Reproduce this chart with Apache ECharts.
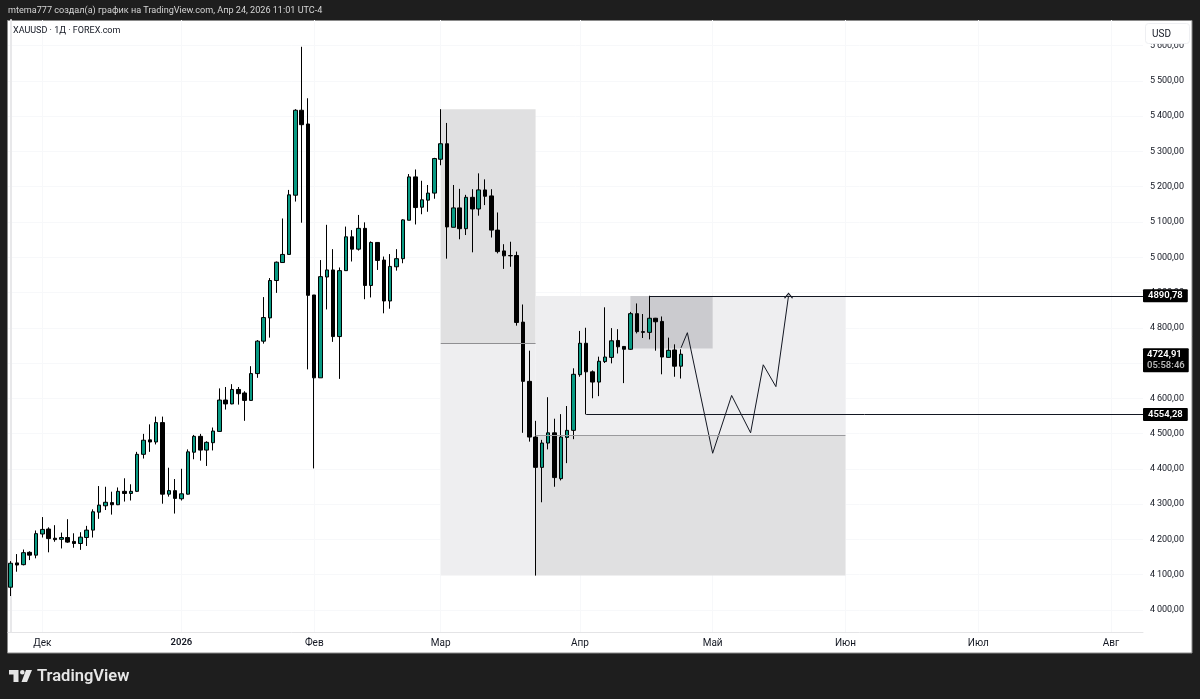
<!DOCTYPE html>
<html>
<head>
<meta charset="utf-8">
<title>XAUUSD</title>
<script src="https://cdn.jsdelivr.net/npm/echarts@6/dist/echarts.min.js"></script>
<style>
  html, body { margin: 0; padding: 0; background: #1e1e1e; }
  #chart { width: 1200px; height: 699px; }
</style>
</head>
<body>
<div id="chart"></div>
<script>
// daily candles
const open = [
  4064,4133,4128,4163,4155,4215,4229,4203,4200,4205,
  4194,4188,4205,4226,4277,4295,4304,4298,4336,4330,
  4336,4441,4482,4476,4531,4328,4338,4315,4328,4447,
  4492,4453,4474,4506,4595,4584,4625,4615,4594,4670,
  4762,4828,4934,4985,5008,5176,5417,5378,4893,4658,
  4944,4964,4775,4962,5058,5023,5082,4920,5042,4992,
  4876,4973,4996,5105,5228,5142,5162,5182,5278,5322,
  5085,5140,5081,5170,5137,5191,5174,5077,5018,5005,
  5005,4816,4648,4490,4404,4473,4502,4372,4489,4509,
  4667,4756,4675,4646,4704,4716,4764,4747,4739,4840,
  4789,4787,4827,4818,4716,4737,4691
];
const close = [
  4132,4127,4162,4155,4216,4228,4202,4199,4205,4192,
  4188,4206,4226,4278,4297,4305,4298,4336,4330,4336,
  4441,4481,4476,4531,4328,4338,4316,4329,4448,4492,
  4453,4475,4507,4595,4584,4625,4613,4594,4670,4762,
  4829,4934,4986,5008,5177,5417,5376,4892,4658,4945,
  4964,4775,4962,5058,5023,5082,4920,5042,4991,4876,
  4974,4996,5106,5228,5141,5163,5182,5280,5322,5086,
  5140,5081,5170,5137,5191,5173,5077,5016,5004,5004,
  4815,4648,4490,4404,4473,4502,4375,4490,4509,4668,
  4756,4675,4646,4705,4717,4763,4746,4739,4840,4789,
  4787,4827,4817,4717,4736,4691,4724.91
];
const low = [
  4039,4108,4126,4141,4146,4205,4163,4193,4174,4190,
  4176,4170,4181,4205,4258,4283,4270,4297,4307,4310,
  4334,4429,4448,4469,4301,4321,4273,4310,4327,4427,
  4423,4408,4452,4505,4568,4583,4582,4536,4593,4658,
  4755,4772,4899,4985,5008,5158,5098,4682,4401,4658,
  4852,4760,4655,4962,4988,5019,4881,4886,4964,4841,
  4854,4962,4983,5105,5093,5122,5129,5166,5261,4996,
  5085,5051,5063,5014,5118,5148,5056,5011,4967,4973,
  4806,4502,4477,4097,4305,4455,4349,4367,4416,4484,
  4661,4554.28,4600,4606,4700,4699,4727,4643,4737,4784,
  4771,4767,4735,4668,4715,4661,4656
];
const high = [
  4138,4158,4171,4166,4225,4263,4234,4240,4219,4257,
  4217,4220,4238,4285,4351,4349,4335,4347,4373,4356,
  4448,4499,4526,4548,4548,4403,4371,4400,4455,4496,
  4499,4478,4517,4628,4632,4640,4632,4620,4691,4765,
  4887,4941,4988,5110,5191,5420,5597,5451,4893,4992,
  5092,5023,4971,5087,5077,5120,5099,5045,5043,5002,
  5009,5023,5108,5236,5249,5217,5205,5282,5420,5381,
  5205,5194,5177,5193,5238,5221,5193,5127,5037,5044,
  5016,4866,4735,4536,4482,4603,4542,4555,4578,4685,
  4791,4800,4679,4718,4858,4799,4796,4748,4845,4869,
  4839,4890.78,4828,4832,4772,4753,4739
];

// time axis: bar number of the first trading day of each month
const monthBars = [5, 27, 48, 68, 90, 111, 132, 153, 174];
const monthNames = ['Дек', '2026', 'Фев', 'Мар', 'Апр', 'Май', 'Июн', 'Июл', 'Авг'];
const priceTicks = [4000, 4100, 4200, 4300, 4400, 4500, 4600, 4700, 4800, 4900, 5000, 5100, 5200, 5300, 5400, 5500, 5600];

// drawn zones: bars and prices
const zoneFrom = [68, 68, 83, 83, 98];
const zoneTo = [83, 83, 132, 132, 111];
const zoneTop = [5420, 4756, 4890, 4494, 4890];
const zoneBottom = [4756, 4097, 4494, 4097, 4741];

// hand drawn path
const pathBars = [106, 107, 111, 114, 117, 119, 121, 123];
const pathPrices = [4743, 4786, 4444, 4608, 4502, 4695, 4633, 4890.78];

const levelBars = [101, 91];
const levelPrices = [4890.78, 4554.28];
const lastPrice = 4724.91;
const countdown = '05:58:46';

const FONT = 'Roboto, "Noto Sans", sans-serif';
const INK = '#131722';
const xMin = -0.427, xMax = 179.05;
const zoneColors = ['#e0e0e1', '#eeeef0', '#eeeef0', '#e0e0e1', '#cbcbcf'];

function priceText(v) {
  return v.toFixed(2).replace('.', ',');
}

const candles = open.map((o, i) => [i, o, close[i], low[i], high[i]]);

const zones = zoneFrom.map((from, i) => [
  { coord: [from, zoneTop[i]], itemStyle: { color: zoneColors[i] } },
  { coord: [zoneTo[i], zoneBottom[i]] }
]);

const pathData = pathBars.map((bar, i) => ({ value: [bar, pathPrices[i]] }));
pathData[pathData.length - 1].symbol = 'path://M0 6L5 0L10 6';
pathData[pathData.length - 1].symbolSize = [8, 5];
pathData[pathData.length - 1].itemStyle = { color: 'transparent', borderColor: INK, borderWidth: 1 };

const tagLabel = {
  show: true, position: 'end', distance: 0, color: '#fff', backgroundColor: '#000',
  fontFamily: FONT, fontSize: 9.5, fontWeight: 600, padding: [2, 5, 1, 5], borderRadius: 1
};

const levelLines = levelBars.map((bar, i) => [
  { coord: [bar, levelPrices[i]] },
  { coord: [xMax, levelPrices[i]], label: Object.assign({}, tagLabel, { formatter: priceText(levelPrices[i]) }) }
]);

// zone dividers
const dividers = [
  [{ coord: [zoneFrom[0], zoneTop[1]], lineStyle: { color: '#8f8f92' } }, { coord: [zoneTo[0], zoneTop[1]], label: { show: false } }],
  [{ coord: [zoneFrom[2], zoneTop[3]], lineStyle: { color: '#9a9a9d' } }, { coord: [zoneTo[2], zoneTop[3]], label: { show: false } }]
];

// last price tag with the countdown under it, the line itself is not visible
const lastTag = [
  { coord: [xMax - 1, lastPrice], lineStyle: { color: 'transparent' } },
  {
    coord: [xMax, lastPrice],
    label: Object.assign({}, tagLabel, {
      formatter: '{p|' + priceText(lastPrice) + '}\n{t|' + countdown + '}',
      offset: [0, 6],
      padding: [1, 4, 1, 4],
      rich: {
        p: { color: '#fff', fontFamily: FONT, fontSize: 9.5, fontWeight: 600, lineHeight: 11 },
        t: { color: '#b8b8b8', fontFamily: FONT, fontSize: 9.5, lineHeight: 11 }
      }
    })
  }
];

const option = {
  backgroundColor: '#1e1e1e',
  animation: false,
  textStyle: { fontFamily: FONT },
  grid: { left: 8, right: 57, top: 20, bottom: 67, containLabel: false },
  xAxis: {
    type: 'value',
    min: xMin,
    max: xMax,
    axisLine: { onZero: false, lineStyle: { color: '#e4e4e6' } },
    axisTick: { show: false, customValues: monthBars },
    splitLine: { show: true, lineStyle: { color: '#f7f8fa' } },
    axisLabel: {
      customValues: monthBars,
      margin: 6,
      color: INK,
      fontFamily: FONT,
      fontSize: 10,
      formatter: v => {
        const name = monthNames[monthBars.indexOf(v)];
        return name === '2026' ? '{y|2026}' : name;
      },
      rich: { y: { fontWeight: 600, color: INK, fontFamily: FONT, fontSize: 9.5 } }
    }
  },
  yAxis: {
    type: 'value',
    position: 'right',
    min: 3937,
    max: 5673,
    axisLine: { show: true, lineStyle: { color: '#e8e8ea', width: 2 } },
    axisTick: { show: false, customValues: priceTicks },
    splitLine: { show: true, lineStyle: { color: '#f7f8fa' } },
    axisLabel: {
      customValues: priceTicks,
      margin: 7,
      color: INK,
      fontFamily: FONT,
      fontSize: 9,
      formatter: v => {
        const s = priceText(v);
        return s.slice(0, 1) + '\u2009' + s.slice(1);
      }
    }
  },
  graphic: [
    // white panel behind the plot
    { type: 'rect', z: -10, silent: true, shape: { x: 7.5, y: 20.5, width: 1184.5, height: 632.5 }, style: { fill: '#fff', stroke: '#8a8a8a', lineWidth: 1 } },
    // header and symbol
    { type: 'text', z: 10, x: 8, y: 11, style: { text: 'mtema777 создал(а) график на TradingView.com, Апр 24, 2026 11:01 UTC-4', fill: '#d6d6d6', font: '9.1px ' + FONT, textVerticalAlign: 'middle' } },
    { type: 'text', z: 10, x: 13, y: 31, style: { text: 'XAUUSD · 1Д · FOREX.com', fill: INK, font: '9px ' + FONT, textVerticalAlign: 'middle' } },
    // currency box on the price scale
    { type: 'rect', z: 10, shape: { x: 1145.5, y: 23.5, width: 44, height: 20, r: 3 }, style: { fill: '#fff', stroke: '#eeeff2', lineWidth: 1 } },
    { type: 'text', z: 11, x: 1152, y: 34, style: { text: 'USD', fill: INK, font: '10px ' + FONT, textVerticalAlign: 'middle' } },
    // TradingView logo
    { type: 'polygon', z: 10, shape: { points: [[9, 670], [18.5, 670], [18.5, 682], [13.5, 682], [13.5, 674.5], [9, 674.5]] }, style: { fill: '#e6e6e6' } },
    { type: 'circle', z: 10, shape: { cx: 22.3, cy: 672.3, r: 2.3 }, style: { fill: '#e6e6e6' } },
    { type: 'polygon', z: 10, shape: { points: [[26, 670], [32, 670], [27, 682], [21.5, 682]] }, style: { fill: '#e6e6e6' } },
    { type: 'text', z: 10, x: 37, y: 677, style: { text: 'TradingView', fill: '#e6e6e6', font: '600 16.5px ' + FONT, textVerticalAlign: 'middle' } }
  ],
  series: [
    {
      type: 'candlestick',
      z: 3,
      barWidth: 4,
      data: candles,
      itemStyle: { color: '#089a83', color0: '#000', borderColor: '#000', borderColor0: '#000', borderWidth: 1 },
      silent: true
    },
    {
      type: 'line',
      z: 4,
      data: pathData,
      symbol: 'none',
      showSymbol: true,
      lineStyle: { color: INK, width: 1 },
      silent: true,
      markArea: { silent: true, data: zones },
      markLine: {
        silent: true,
        symbol: 'none',
        animation: false,
        lineStyle: { color: INK, width: 1, type: 'solid' },
        label: { show: false },
        data: dividers.concat(levelLines, [lastTag])
      }
    }
  ]
};

const myChart = echarts.init(document.getElementById('chart'));
myChart.setOption(option);
</script>
</body>
</html>
